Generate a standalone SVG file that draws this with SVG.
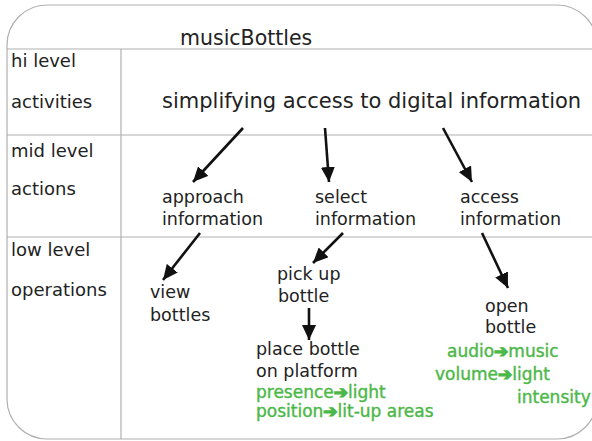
<svg xmlns="http://www.w3.org/2000/svg" width="592" height="441" viewBox="0 0 592 441">
<style>
.t{font-family:"DejaVu Sans","Liberation Sans",sans-serif;fill:#222;}
.lvl{font-size:18px;}
.lbl{font-size:17.5px;}
.g{font-family:"DejaVu Sans","Liberation Sans",sans-serif;font-size:17px;fill:#4cb848;stroke:#4cb848;stroke-width:0.4;}
.ga{stroke-width:1.3;}
.grid{stroke:#b0b0b0;stroke-width:1.2;fill:none;}
.arr{stroke:#111;stroke-width:2.6;fill:none;marker-end:url(#ah);}
</style>
<defs>
<marker id="ah" markerUnits="userSpaceOnUse" markerWidth="16" markerHeight="14" refX="15" refY="7" orient="auto">
<path d="M0,0 L15,7 L0,14 Z" fill="#111"/>
</marker>
</defs>
<rect width="592" height="441" fill="#fff"/>
<g id="frame">
<rect class="grid" x="7" y="5" width="590" height="434" rx="40" ry="40"/>
<line class="grid" x1="7" y1="49" x2="592" y2="49"/>
<line class="grid" x1="7" y1="135" x2="592" y2="135"/>
<line class="grid" x1="7" y1="237" x2="592" y2="237"/>
<line class="grid" x1="121" y1="49" x2="121" y2="439"/>
</g>
<g id="title"><text class="t" x="180" y="45" font-size="20.5">musicBottles</text></g>
<g id="levels">
<text class="t lvl" x="11" y="67">hi level</text>
<text class="t lvl" x="11" y="108">activities</text>
<text class="t lvl" x="11" y="157">mid level</text>
<text class="t lvl" x="11" y="195">actions</text>
<text class="t lvl" x="11" y="256">low level</text>
<text class="t lvl" x="11" y="296">operations</text>
</g>
<g id="activity"><text class="t" x="162" y="108" font-size="21">simplifying access to digital information</text></g>
<g id="approach"><text class="t lbl" x="162" y="203">approach</text><text class="t lbl" x="162" y="225">information</text></g>
<g id="select"><text class="t lbl" x="315" y="203">select</text><text class="t lbl" x="315" y="225">information</text></g>
<g id="access"><text class="t lbl" x="460" y="203">access</text><text class="t lbl" x="460" y="225">information</text></g>
<g id="view"><text class="t lbl" x="150" y="298">view</text><text class="t lbl" x="150" y="321">bottles</text></g>
<g id="pickup"><text class="t lbl" x="277" y="280">pick up</text><text class="t lbl" x="278" y="302">bottle</text></g>
<g id="place">
<text class="t lbl" x="256" y="355">place bottle</text>
<text class="t lbl" x="256" y="377">on platform</text>
<text class="g" x="256" y="398">presence<tspan class="ga">➔</tspan>light</text>
<text class="g" x="256" y="417">position<tspan class="ga">➔</tspan>lit-up areas</text>
</g>
<g id="open">
<text class="t lbl" x="485" y="312">open</text>
<text class="t lbl" x="485" y="333">bottle</text>
<text class="g" x="447" y="357">audio<tspan class="ga">➔</tspan>music</text>
<text class="g" x="435" y="380">volume<tspan class="ga">➔</tspan>light</text>
<text class="g" x="517" y="403">intensity</text>
</g>
<g id="connectors">
<line class="arr" x1="243" y1="128" x2="193" y2="182"/>
<line class="arr" x1="325" y1="128" x2="329" y2="182"/>
<line class="arr" x1="443" y1="128" x2="472" y2="182"/>
<line class="arr" x1="200" y1="233" x2="163" y2="280"/>
<line class="arr" x1="343" y1="233" x2="313" y2="263"/>
<line class="arr" x1="482" y1="233" x2="508" y2="288"/>
<line class="arr" x1="309" y1="308" x2="309" y2="340"/>
</g>
</svg>
